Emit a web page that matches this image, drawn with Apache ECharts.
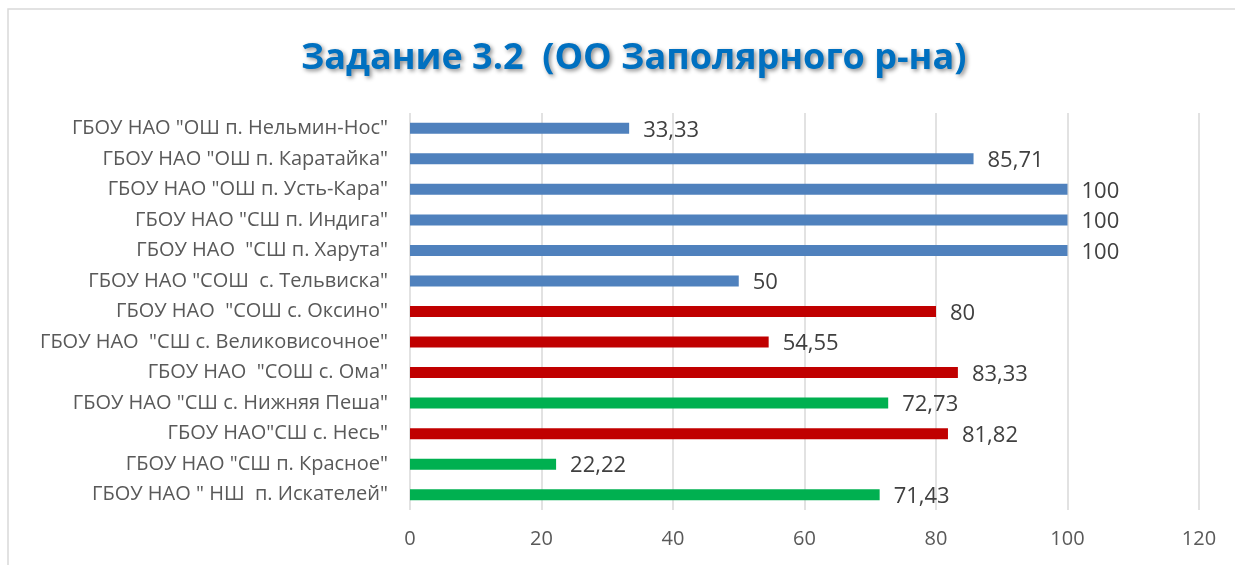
<!DOCTYPE html>
<html>
<head>
<meta charset="utf-8">
<script src="https://cdn.jsdelivr.net/npm/echarts@6/dist/echarts.min.js"></script>
<style>
  html, body { margin: 0; padding: 0; background: #fff; }
  #chart { width: 1235px; height: 565px; }
</style>
</head>
<body>
<div id="chart"></div>
<script>
// данные
const schools = [
  'ГБОУ НАО "ОШ п. Нельмин-Нос"',
  'ГБОУ НАО "ОШ п. Каратайка"',
  'ГБОУ НАО "ОШ п. Усть-Кара"',
  'ГБОУ НАО "СШ п. Индига"',
  'ГБОУ НАО  "СШ п. Харута"',
  'ГБОУ НАО "СОШ  с. Тельвиска"',
  'ГБОУ НАО  "СОШ с. Оксино"',
  'ГБОУ НАО  "СШ с. Великовисочное"',
  'ГБОУ НАО  "СОШ с. Ома"',
  'ГБОУ НАО "СШ с. Нижняя Пеша"',
  'ГБОУ НАО"СШ с. Несь"',
  'ГБОУ НАО "СШ п. Красное"',
  'ГБОУ НАО " НШ  п. Искателей"'
];
const values = [33.33, 85.71, 100, 100, 100, 50, 80, 54.55, 83.33, 72.73, 81.82, 22.22, 71.43];
const groups = ['b', 'b', 'b', 'b', 'b', 'b', 'r', 'r', 'r', 'g', 'r', 'g', 'g'];
const xTicks = [0, 20, 40, 60, 80, 100, 120];

const groupColor = { b: '#4f81bd', r: '#c00000', g: '#00b050' };

const chart = echarts.init(document.getElementById('chart'));

chart.setOption({
  animation: false,
  backgroundColor: '#fff',
  title: {
    text: 'Задание 3.2  (ОО Заполярного р-на)',
    left: 296,
    top: 36,
    textStyle: {
      fontFamily: 'Open Sans',
      fontSize: 36,
      fontWeight: 'bold',
      color: '#0070c0',
      textShadowColor: 'rgba(0,0,0,0.45)',
      textShadowBlur: 4,
      textShadowOffsetX: 2,
      textShadowOffsetY: 2
    }
  },
  graphic: [{
    type: 'rect',
    shape: { x: 8, y: 9, width: 1240, height: 600 },
    style: { fill: 'none', stroke: '#d9d9d9', lineWidth: 1.5 },
    silent: true
  }],
  grid: {
    left: 410,
    right: 36,
    top: 113,
    bottom: 55
  },
  xAxis: {
    type: 'value',
    min: xTicks[0],
    max: xTicks[xTicks.length - 1],
    interval: 20,
    axisLine: { show: false },
    axisTick: { show: false },
    splitLine: { lineStyle: { color: '#d9d9d9', width: 1.5 } },
    axisLabel: {
      color: '#595959',
      fontSize: 20,
      fontFamily: 'Open Sans',
      margin: 19
    }
  },
  yAxis: {
    type: 'category',
    inverse: true,
    data: schools,
    axisLine: { show: false },
    axisTick: { show: false },
    axisLabel: {
      color: '#595959',
      fontSize: 20,
      fontFamily: 'Open Sans',
      margin: 22
    }
  },
  series: [{
    type: 'bar',
    barWidth: 11,
    data: values.map((v, i) => ({
      value: v,
      itemStyle: { color: groupColor[groups[i]] }
    })),
    label: {
      show: true,
      position: 'right',
      distance: 14,
      offset: [0, 2],
      color: '#404040',
      fontSize: 22,
      fontFamily: 'Open Sans',
      formatter: (p) => String(p.value).replace('.', ',')
    }
  }]
});
</script>
</body>
</html>
